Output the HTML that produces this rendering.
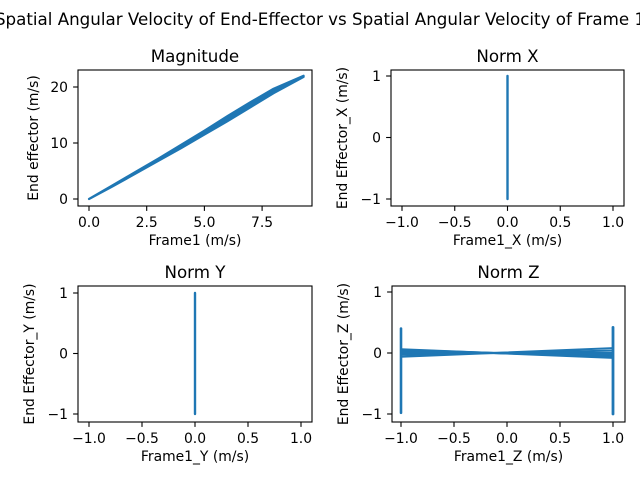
<!DOCTYPE html>
<html><head><meta charset="utf-8"><style>
body{margin:0;background:#fff;}
svg{display:block;font-family:"DejaVu Sans","Liberation Sans",sans-serif;}
</style></head><body>
<svg id="fig" width="640" height="480" viewBox="0 0 640 480" xmlns="http://www.w3.org/2000/svg">
<text x="320" y="25" text-anchor="middle" font-size="16.7">Spatial Angular Velocity of End-Effector vs Spatial Angular Velocity of Frame 1</text>
</svg>
<script>
// Magnitude band (frame1 magnitude vs end-effector magnitude)
const magX = [0, 1, 2, 3, 4, 5, 6, 7, 8, 9.3];
const magYUpper = [0, 2.4, 4.8, 7.2, 9.7, 12.2, 14.8, 17.3, 19.7, 22];
const magYLower = [0, 2.2, 4.5, 6.8, 9.1, 11.5, 13.9, 16.4, 18.9, 21.8];
const magXTicks = [0, 2.5, 5, 7.5];
const magXTickLabels = ["0.0", "2.5", "5.0", "7.5"];
const magYTicks = [0, 10, 20];
const magYTickLabels = ["0", "10", "20"];
// Norm X / Y: vertical segment at x=0
const normXSeg = [[0, -1], [0, 1]];
const normYSeg = [[0, -1], [0, 1]];
const normTicksX = [-1, -0.5, 0, 0.5, 1];
const normTicksXLabels = ["−1.0", "−0.5", "0.0", "0.5", "1.0"];
const normTicksY = [-1, 0, 1];
const normTicksYLabels = ["−1", "0", "1"];
// Norm Z: vertical segments at ±1 and crossing lines
const zLeftRange = [-0.98, 0.4];
const zRightRange = [-1, 0.42];
const zCrossLeft = [0.06, 0.04, 0.02, 0.0, -0.03, -0.06, 0.05];
const zCrossRight = [-0.08, -0.05, -0.03, 0.0, 0.04, 0.08, -0.06];

const NS = "http://www.w3.org/2000/svg";
const fig = document.getElementById('fig');
const C = "#1f77b4";
function mk(tag, attrs, parent){const e=document.createElementNS(NS,tag);for(const k in attrs)e.setAttribute(k,attrs[k]);(parent||fig).appendChild(e);return e;}

function axes(name, box, xd, yd, xr, yr, title, xlabel, ylabel, xt, xtl, yt, ytl, ylabOff){
  const g = mk('g',{});
  
  
  const sx = v => xr[0] + (v - xd[0]) / (xd[1] - xd[0]) * (xr[1] - xr[0]);
  const sy = v => yr[0] + (v - yd[0]) / (yd[1] - yd[0]) * (yr[1] - yr[0]);
  xt.forEach((v,i)=>{
    const x=sx(v);
    const t=mk('line',{x1:x,x2:x,y1:box[3],y2:box[3]+4.9,stroke:'#000','stroke-width':1.1},g);
    
    
    const l=mk('text',{x:x,y:box[3]+21,'text-anchor':'middle','font-size':13.9},g);
    l.textContent=xtl[i];
    
    
  });
  yt.forEach((v,i)=>{
    const y=sy(v);
    const t=mk('line',{x1:box[0]-4.9,x2:box[0],y1:y,y2:y,stroke:'#000','stroke-width':1.1},g);
    
    
    const l=mk('text',{x:box[0]-10,y:y+5,'text-anchor':'end','font-size':13.9},g);
    l.textContent=ytl[i];
    
    
  });
  const tt=mk('text',{x:(box[0]+box[2])/2,y:box[1]-8,'text-anchor':'middle','font-size':16.7},g);
  tt.textContent=title;
  
  
  const xl=mk('text',{x:(box[0]+box[2])/2,y:box[3]+39,'text-anchor':'middle','font-size':13.9},g);
  xl.textContent=xlabel;
  
  
  const lx=box[0]-ylabOff, ly=(box[1]+box[3])/2;
  const yl=mk('text',{x:lx,y:ly,'text-anchor':'middle','font-size':13.9,transform:`rotate(-90 ${lx} ${ly})`},g);
  yl.textContent=ylabel;
  
  
  return {g,sx,sy,box};
}
function frame(a){
  const r=mk('rect',{x:a.box[0],y:a.box[1],width:a.box[2]-a.box[0],height:a.box[3]-a.box[1],fill:'none',stroke:'#000','stroke-width':1.1},a.g);
  
  
}
function poly(a, pts, w, name){
  const p=mk('polyline',{points:pts.map(q=>a.sx(q[0]).toFixed(1)+','+a.sy(q[1]).toFixed(1)).join(' '),fill:'none',stroke:C,'stroke-width':w,'stroke-linejoin':'round','stroke-linecap':'round'},a.g);
  
  
  return p;
}

// Magnitude
const a1=axes('magnitude-subplot',[78,70,312,206],[0,20],[0,20],[89,89+57.7*8],[199,87],'Magnitude','Frame1 (m/s)','End effector (m/s)',magXTicks,magXTickLabels,magYTicks,magYTickLabels,40);
const bandPts=magX.map((x,i)=>[x,magYUpper[i]]).concat(magX.slice().reverse().map((x,i)=>[x,magYLower[magX.length-1-i]]));
const band=mk('polygon',{points:bandPts.map(q=>a1.sx(q[0]).toFixed(1)+','+a1.sy(q[1]).toFixed(1)).join(' '),fill:C,stroke:C,'stroke-width':2.2,'stroke-linejoin':'round'},a1.g);


frame(a1);

// Norm X
const a2=axes('norm-x-subplot',[391,70,624,206],[-1,1],[-1,1],[402,613],[199,76],'Norm X','Frame1_X (m/s)','End Effector_X (m/s)',normTicksX,normTicksXLabels,normTicksY,normTicksYLabels,44);
poly(a2,normXSeg,2.4,'norm-x-series');
frame(a2);

// Norm Y
const a3=axes('norm-y-subplot',[78,286,312,422],[-1,1],[-1,1],[89,301],[414,293],'Norm Y','Frame1_Y (m/s)','End Effector_Y (m/s)',normTicksX,normTicksXLabels,normTicksY,normTicksYLabels,44);
poly(a3,normYSeg,2.4,'norm-y-series');
frame(a3);

// Norm Z
const a4=axes('norm-z-subplot',[392,286,625,422],[-1,1],[-1,1],[401,613],[414,292],'Norm Z','Frame1_Z (m/s)','End Effector_Z (m/s)',normTicksX,normTicksXLabels,normTicksY,normTicksYLabels,44);
zCrossLeft.forEach((v,i)=>poly(a4,[[-1,v],[1,zCrossRight[i]]],2,'norm-z-cross-line'));
poly(a4,[[-1,zLeftRange[0]],[-1,zLeftRange[1]]],2.6,'norm-z-left-series');
poly(a4,[[1,zRightRange[0]],[1,zRightRange[1]]],2.8,'norm-z-right-series');
frame(a4);
</script>
</body></html>
